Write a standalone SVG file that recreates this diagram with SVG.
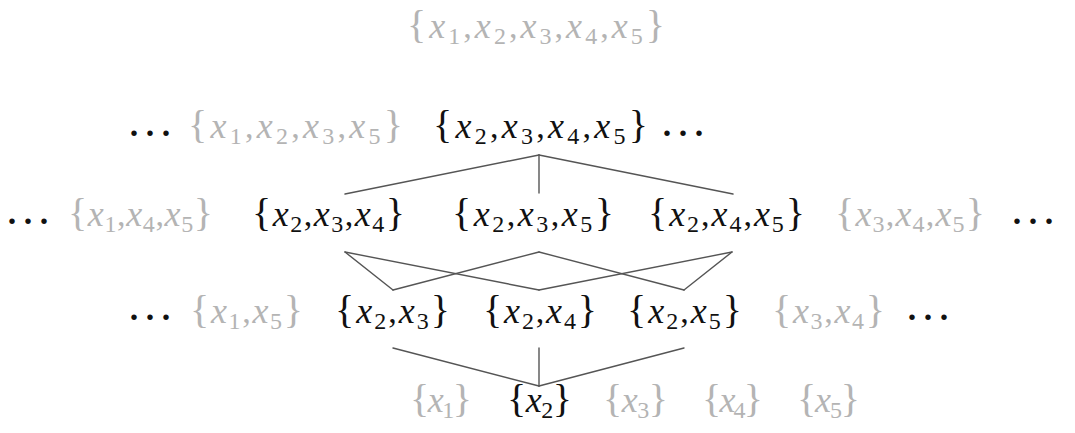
<svg xmlns="http://www.w3.org/2000/svg" width="1075" height="433" viewBox="0 0 1075 433">
<style>
.g{fill:#b4b4b4}
.b{fill:#111}
.conn line{stroke:#555;stroke-width:1.4;stroke-linecap:round}
</style>
<rect width="1075" height="433" fill="#fff"/>
<g class="conn" id="connectors">
<line x1="539" y1="155" x2="345" y2="194"/>
<line x1="539" y1="155" x2="539" y2="193"/>
<line x1="539" y1="155" x2="733" y2="194"/>
<line x1="345" y1="252" x2="393" y2="290"/>
<line x1="345" y1="252" x2="539" y2="290"/>
<line x1="539" y1="252" x2="393" y2="290"/>
<line x1="539" y1="252" x2="684" y2="290"/>
<line x1="732" y1="252" x2="539" y2="290"/>
<line x1="732" y1="252" x2="684" y2="290"/>
<line x1="393" y1="348" x2="539" y2="386"/>
<line x1="539" y1="348" x2="539" y2="386"/>
<line x1="684" y1="348" x2="539" y2="386"/>
</g>
<g font-family="Liberation Serif, serif" font-size="34">
<g id="n12345"><text class="g" x="407" y="38" textLength="258" lengthAdjust="spacing"><tspan font-size="40">{</tspan><tspan font-style="italic" font-size="36">x</tspan><tspan font-size="24" dy="6">1</tspan><tspan dy="-6">,</tspan><tspan font-style="italic" font-size="36">x</tspan><tspan font-size="24" dy="6">2</tspan><tspan dy="-6">,</tspan><tspan font-style="italic" font-size="36">x</tspan><tspan font-size="24" dy="6">3</tspan><tspan dy="-6">,</tspan><tspan font-style="italic" font-size="36">x</tspan><tspan font-size="24" dy="6">4</tspan><tspan dy="-6">,</tspan><tspan font-style="italic" font-size="36">x</tspan><tspan font-size="24" dy="6">5</tspan><tspan font-size="40" dy="-6">}</tspan></text></g>
<g id="dots2l"><text fill="#111" font-weight="bold" letter-spacing="7.5" x="129.75" y="135.5">...</text></g>
<g id="n1235"><text class="g" x="188" y="138" textLength="215" lengthAdjust="spacing"><tspan font-size="40">{</tspan><tspan font-style="italic" font-size="36">x</tspan><tspan font-size="24" dy="6">1</tspan><tspan dy="-6">,</tspan><tspan font-style="italic" font-size="36">x</tspan><tspan font-size="24" dy="6">2</tspan><tspan dy="-6">,</tspan><tspan font-style="italic" font-size="36">x</tspan><tspan font-size="24" dy="6">3</tspan><tspan dy="-6">,</tspan><tspan font-style="italic" font-size="36">x</tspan><tspan font-size="24" dy="6">5</tspan><tspan font-size="40" dy="-6">}</tspan></text></g>
<g id="n2345"><text class="b" x="433" y="138" textLength="215" lengthAdjust="spacing"><tspan font-size="40">{</tspan><tspan font-style="italic" font-size="36">x</tspan><tspan font-size="24" dy="6">2</tspan><tspan dy="-6">,</tspan><tspan font-style="italic" font-size="36">x</tspan><tspan font-size="24" dy="6">3</tspan><tspan dy="-6">,</tspan><tspan font-style="italic" font-size="36">x</tspan><tspan font-size="24" dy="6">4</tspan><tspan dy="-6">,</tspan><tspan font-style="italic" font-size="36">x</tspan><tspan font-size="24" dy="6">5</tspan><tspan font-size="40" dy="-6">}</tspan></text></g>
<g id="dots2r"><text fill="#111" font-weight="bold" letter-spacing="7.5" x="662.75" y="135.5">...</text></g>
<g id="dots3l"><text fill="#111" font-weight="bold" letter-spacing="7.5" x="7.75" y="224">...</text></g>
<g id="n145"><text class="g" x="68" y="226" textLength="145" lengthAdjust="spacing"><tspan font-size="40">{</tspan><tspan font-style="italic" font-size="36">x</tspan><tspan font-size="24" dy="6">1</tspan><tspan dy="-6">,</tspan><tspan font-style="italic" font-size="36">x</tspan><tspan font-size="24" dy="6">4</tspan><tspan dy="-6">,</tspan><tspan font-style="italic" font-size="36">x</tspan><tspan font-size="24" dy="6">5</tspan><tspan font-size="40" dy="-6">}</tspan></text></g>
<g id="n234"><text class="b" x="252" y="226" textLength="153" lengthAdjust="spacing"><tspan font-size="40">{</tspan><tspan font-style="italic" font-size="36">x</tspan><tspan font-size="24" dy="6">2</tspan><tspan dy="-6">,</tspan><tspan font-style="italic" font-size="36">x</tspan><tspan font-size="24" dy="6">3</tspan><tspan dy="-6">,</tspan><tspan font-style="italic" font-size="36">x</tspan><tspan font-size="24" dy="6">4</tspan><tspan font-size="40" dy="-6">}</tspan></text></g>
<g id="n235"><text class="b" x="452" y="226" textLength="162" lengthAdjust="spacing"><tspan font-size="40">{</tspan><tspan font-style="italic" font-size="36">x</tspan><tspan font-size="24" dy="6">2</tspan><tspan dy="-6">,</tspan><tspan font-style="italic" font-size="36">x</tspan><tspan font-size="24" dy="6">3</tspan><tspan dy="-6">,</tspan><tspan font-style="italic" font-size="36">x</tspan><tspan font-size="24" dy="6">5</tspan><tspan font-size="40" dy="-6">}</tspan></text></g>
<g id="n245"><text class="b" x="648" y="226" textLength="157" lengthAdjust="spacing"><tspan font-size="40">{</tspan><tspan font-style="italic" font-size="36">x</tspan><tspan font-size="24" dy="6">2</tspan><tspan dy="-6">,</tspan><tspan font-style="italic" font-size="36">x</tspan><tspan font-size="24" dy="6">4</tspan><tspan dy="-6">,</tspan><tspan font-style="italic" font-size="36">x</tspan><tspan font-size="24" dy="6">5</tspan><tspan font-size="40" dy="-6">}</tspan></text></g>
<g id="n345"><text class="g" x="835" y="226" textLength="150" lengthAdjust="spacing"><tspan font-size="40">{</tspan><tspan font-style="italic" font-size="36">x</tspan><tspan font-size="24" dy="6">3</tspan><tspan dy="-6">,</tspan><tspan font-style="italic" font-size="36">x</tspan><tspan font-size="24" dy="6">4</tspan><tspan dy="-6">,</tspan><tspan font-style="italic" font-size="36">x</tspan><tspan font-size="24" dy="6">5</tspan><tspan font-size="40" dy="-6">}</tspan></text></g>
<g id="dots3r"><text fill="#111" font-weight="bold" letter-spacing="7.5" x="1012.75" y="224">...</text></g>
<g id="dots4l"><text fill="#111" font-weight="bold" letter-spacing="7.5" x="129.75" y="319.5">...</text></g>
<g id="n15"><text class="g" x="190" y="323" textLength="113" lengthAdjust="spacing"><tspan font-size="40">{</tspan><tspan font-style="italic" font-size="36">x</tspan><tspan font-size="24" dy="6">1</tspan><tspan dy="-6">,</tspan><tspan font-style="italic" font-size="36">x</tspan><tspan font-size="24" dy="6">5</tspan><tspan font-size="40" dy="-6">}</tspan></text></g>
<g id="n23"><text class="b" x="335" y="323" textLength="115" lengthAdjust="spacing"><tspan font-size="40">{</tspan><tspan font-style="italic" font-size="36">x</tspan><tspan font-size="24" dy="6">2</tspan><tspan dy="-6">,</tspan><tspan font-style="italic" font-size="36">x</tspan><tspan font-size="24" dy="6">3</tspan><tspan font-size="40" dy="-6">}</tspan></text></g>
<g id="n24"><text class="b" x="483" y="323" textLength="114" lengthAdjust="spacing"><tspan font-size="40">{</tspan><tspan font-style="italic" font-size="36">x</tspan><tspan font-size="24" dy="6">2</tspan><tspan dy="-6">,</tspan><tspan font-style="italic" font-size="36">x</tspan><tspan font-size="24" dy="6">4</tspan><tspan font-size="40" dy="-6">}</tspan></text></g>
<g id="n25"><text class="b" x="627" y="323" textLength="115" lengthAdjust="spacing"><tspan font-size="40">{</tspan><tspan font-style="italic" font-size="36">x</tspan><tspan font-size="24" dy="6">2</tspan><tspan dy="-6">,</tspan><tspan font-style="italic" font-size="36">x</tspan><tspan font-size="24" dy="6">5</tspan><tspan font-size="40" dy="-6">}</tspan></text></g>
<g id="n34"><text class="g" x="772" y="323" textLength="113" lengthAdjust="spacing"><tspan font-size="40">{</tspan><tspan font-style="italic" font-size="36">x</tspan><tspan font-size="24" dy="6">3</tspan><tspan dy="-6">,</tspan><tspan font-style="italic" font-size="36">x</tspan><tspan font-size="24" dy="6">4</tspan><tspan font-size="40" dy="-6">}</tspan></text></g>
<g id="dots4r"><text fill="#111" font-weight="bold" letter-spacing="7.5" x="907.75" y="319.5">...</text></g>
<g id="n1"><text class="g" x="410" y="412" textLength="62" lengthAdjust="spacing"><tspan font-size="40">{</tspan><tspan font-style="italic" font-size="36">x</tspan><tspan font-size="24" dy="6">1</tspan><tspan font-size="40" dy="-6">}</tspan></text></g>
<g id="n2"><text class="b" x="507" y="412" textLength="65" lengthAdjust="spacing"><tspan font-size="40">{</tspan><tspan font-style="italic" font-size="36">x</tspan><tspan font-size="24" dy="6">2</tspan><tspan font-size="40" dy="-6">}</tspan></text></g>
<g id="n3"><text class="g" x="603" y="412" textLength="65" lengthAdjust="spacing"><tspan font-size="40">{</tspan><tspan font-style="italic" font-size="36">x</tspan><tspan font-size="24" dy="6">3</tspan><tspan font-size="40" dy="-6">}</tspan></text></g>
<g id="n4"><text class="g" x="702" y="412" textLength="61" lengthAdjust="spacing"><tspan font-size="40">{</tspan><tspan font-style="italic" font-size="36">x</tspan><tspan font-size="24" dy="6">4</tspan><tspan font-size="40" dy="-6">}</tspan></text></g>
<g id="n5"><text class="g" x="797" y="412" textLength="63" lengthAdjust="spacing"><tspan font-size="40">{</tspan><tspan font-style="italic" font-size="36">x</tspan><tspan font-size="24" dy="6">5</tspan><tspan font-size="40" dy="-6">}</tspan></text></g>
</g>
</svg>
